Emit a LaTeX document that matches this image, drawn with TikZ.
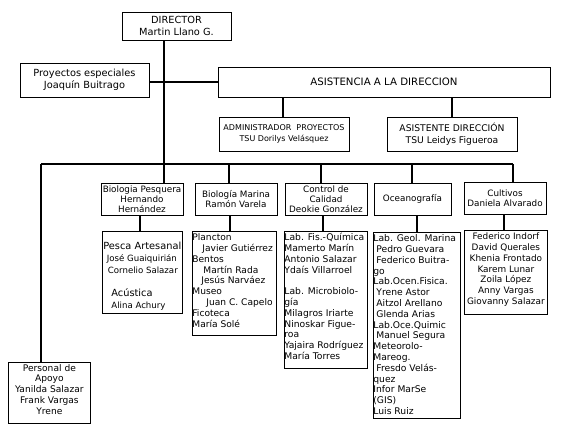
\documentclass[tikz,border=0pt]{standalone}
\usepackage{fontspec}
\setmainfont{DejaVu Sans}
\newcommand{\fs}[1]{\fontsize{#1}{10.8}\selectfont}
\newcommand{\tbx}[4]{\parbox[c][#2][t]{#1}{\fs{#3}\rule{0pt}{9.2pt}#4}}
\begin{document}
\begin{tikzpicture}[x=1pt,y=-1pt,
  box/.style={draw=black,line width=0.8pt,inner sep=0pt,align=center,fill=white},
  conn/.style={draw=black,line width=1.6pt},
  midbox/.style={box,minimum height=32pt,font=\fontsize{8.8}{10}\selectfont}]
\useasboundingbox (0,0) rectangle (565,432);
\fill[white] (0,0) rectangle (565,432);
% top level
\node[box,minimum width=109pt,minimum height=28pt,font=\fontsize{9.8}{12}\selectfont] (dir) at (176.5,26) {DIRECTOR\\Martin Llano G.};
\node[box,minimum width=129pt,minimum height=34pt,font=\fontsize{9.8}{12}\selectfont] (proy) at (84.5,80) {Proyectos especiales\\Joaquín Buitrago};
\node[box,minimum width=332pt,minimum height=30pt,font=\fontsize{10.2}{12}\selectfont] (asis) at (384,82) {ASISTENCIA A LA DIRECCION};
\node[box,minimum width=130pt,minimum height=34pt,font=\fontsize{8}{10.5}\selectfont] (adm) at (284,134) {ADMINISTRADOR\ \ PROYECTOS\\TSU Dorilys Velásquez};
\node[box,minimum width=130pt,minimum height=34pt,font=\fontsize{9.2}{12}\selectfont] (asit) at (452,134) {ASISTENTE DIRECCIÓN\\TSU Leidys Figueroa};
% second level
\node[midbox,minimum width=82pt] (bp) at (142,199) {Biologia Pesquera\\Hernando\\Hernández};
\node[midbox,minimum width=82pt] (bm) at (236,199) {Biología Marina\\Ramón Varela};
\node[midbox,minimum width=82pt] (cc) at (326,199) {Control de\\Calidad\\Deokie González};
\node[midbox,minimum width=77pt] (oc) at (412.5,199) {Oceanografía};
\node[midbox,minimum width=82pt] (cu) at (505,198) {Cultivos\\Daniela Alvarado};
% lower boxes
\node[box,anchor=north west] (pa) at (102,231) {\parbox[c][82pt][t]{80pt}{\raggedright\vspace*{11pt}%
\hspace*{1pt}{\fs{9.8}Pesca Artesanal}\\
\hspace*{4.5pt}{\fontsize{8.6}{10.8}\selectfont José Guaiquirián}\\
\hspace*{5.5pt}{\fontsize{8.6}{10.8}\selectfont Cornelio Salazar}\\[11pt]
\hspace*{9pt}{\fs{9.8}Acústica}\\
\hspace*{9pt}{\fontsize{8.6}{10.8}\selectfont Alina Achury}}};
\node[box,anchor=north west] (bml) at (192,231) {\tbx{84pt}{104pt}{9.1}{\raggedright
Plancton\\
\hspace*{10pt}Javier Gutiérrez\\
Bentos\\
\hspace*{11pt}Martín Rada\\
\hspace*{9pt}Jesús Narváez\\
Museo\\
\hspace*{14pt}Juan C. Capelo\\
Ficoteca\\
María Solé}};
\node[box,anchor=north west] (ccl) at (284,231) {\tbx{83pt}{137pt}{9.2}{\raggedright
Lab. Fis.-Química\\
Mamerto Marín\\
Antonio Salazar\\
Ydaís Villarroel\\[10.8pt]
Lab. Microbiolo-\\
gía\\
Milagros Iriarte\\
Ninoskar Figue-\\
roa\\
Yajaira Rodríguez\\
María Torres}};
\node[box,anchor=north west] (ocl) at (373,232) {\tbx{87pt}{186pt}{9.2}{\raggedright
Lab. Geol. Marina\\
\hspace*{3pt}Pedro Guevara\\
\hspace*{3pt}Federico Buitra-\\
go\\
Lab.Ocen.Fisica.\\
\hspace*{3pt}Yrene Astor\\
\hspace*{3pt}Aitzol Arellano\\
\hspace*{3pt}Glenda Arias\\
Lab.Oce.Quimic\\
\hspace*{3pt}Manuel Segura\\
Meteorolo-\\
Mareog.\\
\hspace*{3pt}Fresdo Velás-\\
quez\\
Infor MarSe\\
(GIS)\\
Luis Ruiz}};
\node[box,anchor=north west] (cul) at (464,230) {\tbx{83pt}{84pt}{8.9}{\centering
Federico Indorf\\
David Querales\\
Khenia Frontado\\
Karem Lunar\\
Zoila López\\
Anny Vargas\\
Giovanny Salazar}};
\node[box,anchor=north west] (pers) at (8,362) {\parbox[c][61pt][t]{82pt}{\fs{9.1}\centering\rule{0pt}{8.6pt}%
Personal de\\
Apoyo\\
Yanilda Salazar\\
Frank Vargas\\
Yrene}};
% coordinates for connector positions
\coordinate (mx) at (164,0);
\coordinate (busL) at (41,164);
\coordinate (busR) at (513,164);
% connectors
\draw[conn] (dir.south -| mx) -- (bp.north -| mx);
\draw[conn] (proy.east |- asis.west) -- (asis.west);
\draw[conn] ([xshift=-1pt]adm.north |- asis.south) -- ([xshift=-1pt]adm.north);
\draw[conn] (asit.north |- asis.south) -- (asit.north);
\draw[conn] (busL) -- (busR);
\draw[conn] (busL) -- (pers.north -| busL);
\draw[conn] ([xshift=-7pt]bm.north |- busL) -- ([xshift=-7pt]bm.north);
\draw[conn] ([xshift=-5pt]cc.north |- busL) -- ([xshift=-5pt]cc.north);
\draw[conn] ([xshift=-0.5pt]oc.north |- busL) -- ([xshift=-0.5pt]oc.north);
\draw[conn] (busR) -- (busR |- cu.north);
\draw[conn] ([xshift=-2pt]bp.south) -- ([xshift=-2pt]bp.south |- pa.north);
\draw[conn] ([xshift=-6pt]bm.south) -- ([xshift=-6pt]bm.south |- bml.north);
\draw[conn] ([xshift=-3pt]cc.south) -- ([xshift=-3pt]cc.south |- ccl.north);
\draw[conn] ([xshift=4.5pt]oc.south) -- ([xshift=4.5pt]oc.south |- ocl.north);
\draw[conn] ([xshift=-1pt]cu.south) -- ([xshift=-1pt]cu.south |- cul.north);
\end{tikzpicture}
\end{document}
